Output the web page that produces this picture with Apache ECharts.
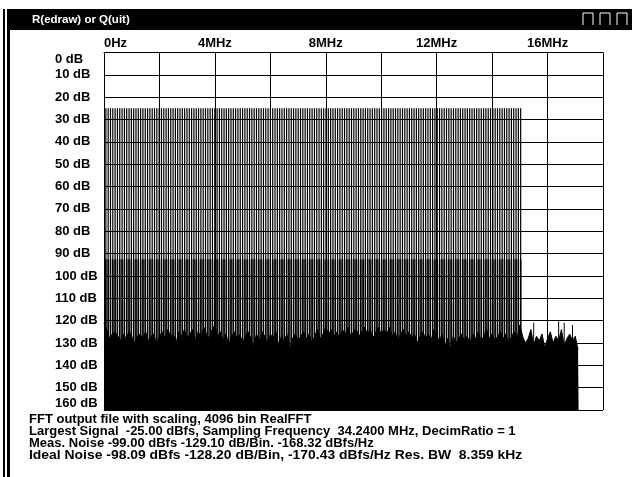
<!DOCTYPE html>
<html><head><meta charset="utf-8">
<script src="https://cdn.jsdelivr.net/npm/echarts@6/dist/echarts.min.js"></script>
<style>html,body{margin:0;padding:0;background:#fff;}#c{width:632px;height:477px;}</style>
</head><body><div id="c"></div>
<script>
// ---- data ----
const titleText = 'R(edraw) or Q(uit)';
const freqLabelStepMHz = 4;
const freqMaxMHz = 18;
const dbMax = 160;
const sampleRateMHz = 34.24;
const fftSize = 4096;
const toneLevelDb = 25;      // peak of every test tone
const skirtLevelDb = 92.5;   // flat level of the bins next to every tone
const toneBins = [8,18,28,38,48,58,68,78,88,98,108,118,128,138,148,158,168,178,188,198,
208,218,228,238,248,258,268,278,288,298,308,318,328,338,348,358,368,378,388,398,
408,418,428,438,448,458,468,478,488,498,508,518,528,538,548,558,568,578,588,598,
608,618,628,638,648,658,668,678,688,698,708,718,728,738,748,758,768,778,788,798,
808,818,828,838,848,858,868,878,888,898,908,918,928,938,948,958,968,978,988,998,
1008,1018,1028,1038,1048,1058,1068,1078,1088,1098,1108,1118,1128,1138,1148,1158,1168,1178,1188,1198,
1208,1218,1228,1238,1248,1258,1268,1278,1288,1298,1308,1318,1328,1338,1348,1358,1368,1378,1388,1398,
1408,1418,1428,1438,1448,1458,1468,1478,1488,1498,1508,1518,1528,1538,1548,1558,1568,1578,1588,1598,
1608,1618,1628,1638,1648,1658,1668,1678,1688,1698,1708,1718,1728,1738,1748,1758,1768,1778,1788,1798];
// noise floor top, one value every 0.1 MHz from 0 to 17.1 MHz
const noiseStartMHz = 0, noiseStepMHz = 0.1;
const noiseLevelDb = [
121,124,128,126,125,127,129,126,128,125,127,
130,127,126,128,125,129,127,126,131,127,
125,128,124,127,126,130,125,127,124,128,
126,124,129,125,127,123,126,128,124,122,
127,125,129,126,131,127,125,128,126,130,
127,125,128,132,126,129,125,127,130,126,
128,125,131,127,129,126,133,128,126,129,
127,125,128,126,130,127,124,128,126,123,
126,124,127,125,128,124,126,123,127,125,
124,127,125,123,126,124,128,125,123,126,
124,126,123,127,125,129,126,124,127,125,
128,126,130,127,125,128,126,129,124,127,
129,126,131,128,133,127,130,128,126,129,
127,130,126,128,125,129,127,124,128,126,
129,127,125,128,126,130,127,125,128,122,
127,130,128,124,131,127,129,126,132,128,
125,130,127,129,124,131,128,126,129,127,133];
const noiseEndMHz = 17.12;
// isolated thin peaks above the floor beyond the tone band
const peakFreqMHz = [15.5, 16.0, 16.4, 16.6, 16.9];
const peakLevelDb = [121, 121.5, 120.3, 121, 122];
const infoLines = [
 'FFT output file with scaling, 4096 bin RealFFT',
 'Largest Signal  -25.00 dBfs, Sampling Frequency  34.2400 MHz, DecimRatio = 1',
 'Meas. Noise -99.00 dBfs -129.10 dB/Bin. -168.32 dBfs/Hz',
 'Ideal Noise -98.09 dBfs -128.20 dB/Bin, -170.43 dBfs/Hz Res. BW  8.359 kHz'
];

const binMHz = sampleRateMHz / fftSize;
const FONT = '"Liberation Sans", Arial, sans-serif';
const chart = echarts.init(document.getElementById('c'), null, {renderer: 'canvas'});

function lineItem(width) {
  return function (params, api) {
    const f = api.value(0), lvl = api.value(1);
    const top = api.coord([f, lvl]);
    const bot = api.coord([f, dbMax]);
    return {type: 'rect', shape: {x: top[0] - width / 2, y: top[1], width: width, height: bot[1] - top[1]},
      style: {fill: '#000'}};
  };
}

const noiseData = noiseLevelDb.map(function (v, i) { return [noiseStartMHz + i * noiseStepMHz, v]; });
noiseData.push([noiseEndMHz, noiseLevelDb[noiseLevelDb.length - 1]]);

const graphics = [
  {type: 'rect', shape: {x: 9, y: 9, width: 623, height: 21}, style: {fill: '#000'}, z: 10},
  {type: 'text', x: 32, y: 19.5, style: {text: titleText, fill: '#fff', font: 'bold 11.5px ' + FONT, verticalAlign: 'middle'}, z: 11},
  {type: 'rect', shape: {x: 3, y: 9, width: 2, height: 468}, style: {fill: '#000'}, z: 10},
  {type: 'rect', shape: {x: 7, y: 9, width: 3, height: 468}, style: {fill: '#000'}, z: 10}
];
[583, 600, 617].forEach(function (x) {
  graphics.push({type: 'polyline', shape: {points: [[x, 25], [x, 13], [x + 10, 13], [x + 10, 25]]},
    style: {stroke: '#fff', lineWidth: 1, fill: null}, z: 11});
});
const infoScaleX = [1, 1, 1, 1.07];
infoLines.forEach(function (t, i) {
  graphics.push({type: 'text', x: 29, y: 419 + i * 12, scaleX: infoScaleX[i],
    style: {text: t, fill: '#000', font: 'bold 13px ' + FONT, verticalAlign: 'middle'}, z: 10});
});

chart.setOption({
  animation: false,
  backgroundColor: '#fff',
  grid: {left: 104, top: 52.5, width: 499, height: 357.5, show: false},
  xAxis: {
    type: 'value', min: 0, max: freqMaxMHz, interval: 2, position: 'top',
    axisLine: {show: true, lineStyle: {color: '#000', width: 1}},
    axisTick: {show: false},
    splitLine: {show: true, lineStyle: {color: '#000', width: 1}},
    axisLabel: {
      color: '#000', fontWeight: 'bold', fontSize: 13, fontFamily: FONT, margin: 3,
      alignMinLabel: 'left', showMaxLabel: true,
      formatter: function (v) { if (v % freqLabelStepMHz !== 0 || v === freqMaxMHz) return ''; return v === 0 ? '0Hz' : v + 'MHz'; }
    }
  },
  yAxis: {
    type: 'value', min: 0, max: dbMax, interval: 10, inverse: true,
    axisLine: {show: true, lineStyle: {color: '#000', width: 1}},
    axisTick: {show: false},
    splitLine: {show: true, lineStyle: {color: '#000', width: 1}},
    axisLabel: {
      color: '#000', fontWeight: 'bold', fontSize: 13, fontFamily: FONT, align: 'left', margin: 49,
      verticalAlignMinLabel: 'top', verticalAlignMaxLabel: 'bottom',
      formatter: '{value} dB'
    }
  },
  graphic: graphics,
  series: [
    {type: 'line', data: noiseData,
      symbol: 'none', lineStyle: {color: '#000', width: 1}, areaStyle: {color: '#000', origin: 'end', opacity: 1}, z: 2},
    {type: 'custom', renderItem: lineItem(1), data: peakFreqMHz.map(function (f, i) { return [f, peakLevelDb[i]]; }), z: 3},
    {type: 'custom', renderItem: lineItem(1.5), data: toneBins.map(function (b) { return [b * binMHz, skirtLevelDb]; }), z: 3},
    {type: 'custom', renderItem: lineItem(1.2), data: toneBins.map(function (b) { return [b * binMHz, toneLevelDb]; }), z: 4}
  ]
});
</script></body></html>
